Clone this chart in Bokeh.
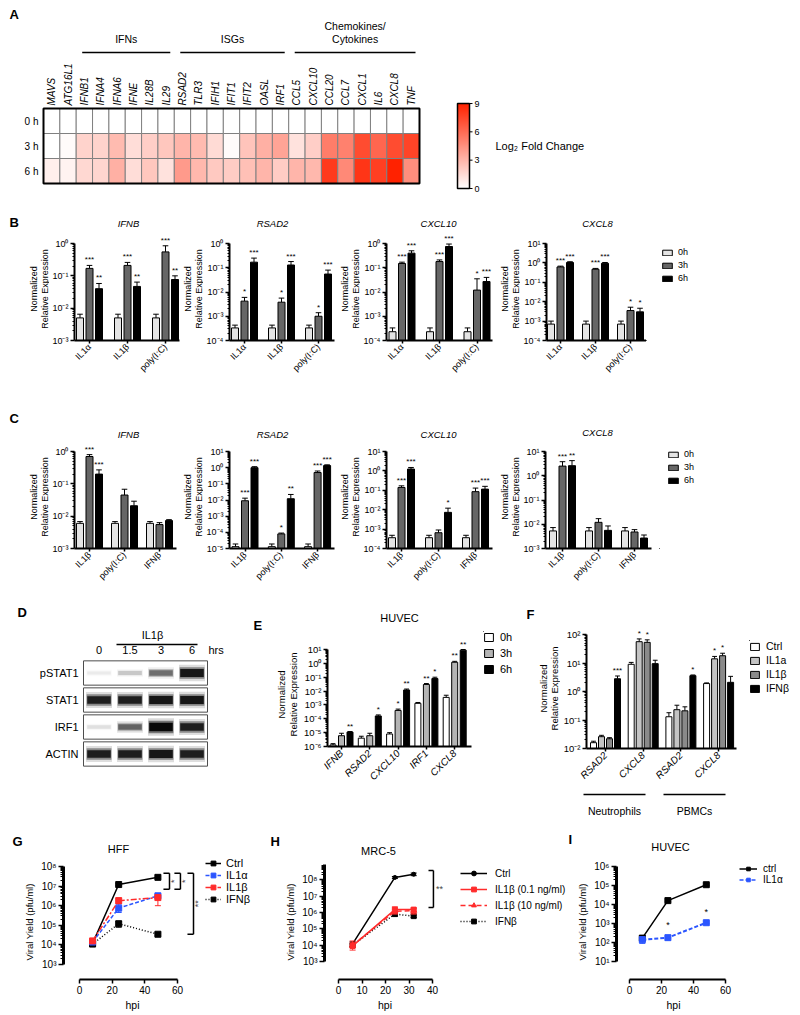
import math
import numpy as np
from bokeh.plotting import figure
from bokeh.layouts import row, column
from bokeh.models import (Range1d, FixedTicker, CustomJSTickFormatter, Label, Spacer,
                          Legend, LegendItem, ColumnDataSource, LinearColorMapper)
from bokeh.transform import dodge, linear_cmap
from bokeh.core.properties import value
from bokeh.embed import file_html
from bokeh.resources import INLINE

FONT = "Liberation Sans"

# ======================= DATA =======================
# --- A: heat map (log2 fold change) ---
GENES = ["MAVS", "ATG16L1", "IFNB1", "IFNA4", "IFNA6", "IFNE", "IL28B", "IL29", "RSAD2", "TLR3",
         "IFIH1", "IFIT1", "IFIT2", "OASL", "IRF1", "CCL5", "CXCL10", "CCL20", "CCL7", "CXCL1",
         "IL6", "CXCL8", "TNF"]
TIMES = ["0 h", "3 h", "6 h"]
LFC_0H = [0.0, 0.0, 0.0, 0.0, 0.0, 0.0, 0.0, 0.0, 0.0, 0.0, 0.0, 0.0,
          0.0, 0.0, 0.0, 0.0, 0.0, 0.0, 0.0, 0.0, 0.0, 0.0, 0.0]
LFC_3H = [0.0, 0.2, 1.8, 1.8, 2.8, 1.4, 2.0, 2.3, 3.0, 2.8, 1.5, 0.2,
          2.4, 3.2, 3.7, 1.2, 2.0, 5.3, 5.1, 7.3, 6.2, 7.3, 7.6]
LFC_6H = [0.7, 0.5, 1.6, 1.7, 3.2, 1.4, 2.3, 1.2, 4.1, 2.9, 2.2, 2.1,
          2.6, 3.0, 2.1, 3.0, 2.9, 8.0, 4.8, 8.2, 7.8, 9.0, 4.6]
GENE_GROUPS = ["IFNs", "ISGs", "Chemokines/Cytokines"]
GROUP_FIRST = [2, 8, 15]
GROUP_LAST = [7, 14, 22]
CBAR_LOW, CBAR_HIGH = 0, 9
CBAR_TICKS = [0, 3, 6, 9]

# --- B ---
B_GROUPS = ["IL1\u03b1", "IL1\u03b2", "poly(I:C)"]
B_TIMES = ["0h", "3h", "6h"]
B_TITLES = ["IFNB", "RSAD2", "CXCL10", "CXCL8"]
B_IFNB = [[5e-3, 5e-3, 5e-3], [0.17, 0.21, 0.55], [0.040, 0.047, 0.077]]
B_IFNB_UP = [[6.5e-3, 6.5e-3, 6.5e-3], [0.21, 0.26, 0.85], [0.058, 0.064, 0.10]]
B_IFNB_SIG = [["", "", ""], ["***", "***", "***"], ["**", "**", "**"]]
B_RSAD2 = [[3.3e-4, 3.3e-4, 3.3e-4], [4.2e-3, 3.8e-3, 1.0e-3], [0.17, 0.13, 0.055]]
B_RSAD2_UP = [[4.3e-4, 4.3e-4, 4.3e-4], [6.0e-3, 5.6e-3, 1.4e-3], [0.25, 0.18, 0.08]]
B_RSAD2_SIG = [["", "", ""], ["*", "*", "*"], ["***", "***", "***"]]
B_CXCL10 = [[2.3e-4, 2.3e-4, 2.3e-4], [0.15, 0.18, 0.012], [0.40, 0.75, 0.027]]
B_CXCL10_UP = [[3.3e-4, 3.3e-4, 3.3e-4], [0.17, 0.21, 0.035], [0.50, 0.95, 0.040]]
B_CXCL10_SIG = [["", "", ""], ["***", "***", "*"], ["***", "***", "***"]]
B_CXCL8 = [[7e-4, 7e-4, 7e-4], [0.62, 0.47, 3.5e-3], [1.05, 0.95, 3.0e-3]]
B_CXCL8_UP = [[1e-3, 1e-3, 1e-3], [0.68, 0.52, 5.2e-3], [1.15, 1.05, 4.6e-3]]
B_CXCL8_SIG = [["", "", ""], ["***", "***", "*"], ["***", "***", "*"]]

# --- C ---
C_GROUPS = ["IL1\u03b2", "poly(I:C)", "IFN\u03b2"]
C_IFNB = [[6e-3, 6e-3, 6e-3], [0.70, 0.045, 5.5e-3], [0.20, 0.021, 7.3e-3]]
C_IFNB_UP = [[6.8e-3, 6.8e-3, 6.8e-3], [0.80, 0.068, 6.3e-3], [0.27, 0.029, 7.8e-3]]
C_IFNB_SIG = [["", "", ""], ["***", "", ""], ["***", "", ""]]
C_RSAD2 = [[1.3e-5, 1.3e-5, 1.3e-5], [9e-3, 8e-5, 0.50], [1.0, 0.012, 1.35]]
C_RSAD2_UP = [[1.9e-5, 1.9e-5, 1.9e-5], [1.3e-2, 9e-5, 0.62], [1.15, 0.022, 1.5]]
C_RSAD2_SIG = [["", "", ""], ["***", "*", "***"], ["***", "**", "***"]]
C_CXCL10 = [[3.6e-4, 3.6e-4, 3.6e-4], [0.14, 6.5e-4, 0.085], [1.25, 7.3e-3, 0.115]]
C_CXCL10_UP = [[4.8e-4, 4.8e-4, 4.8e-4], [0.17, 9e-4, 0.13], [1.5, 1.2e-2, 0.16]]
C_CXCL10_SIG = [["", "", ""], ["***", "", "***"], ["***", "*", "***"]]
C_CXCL8 = [[5.3e-3, 5.3e-3, 5.3e-3], [2.5, 0.012, 4.8e-3], [2.6, 5.6e-3, 2.7e-3]]
C_CXCL8_UP = [[7.3e-3, 7.3e-3, 7.3e-3], [3.8, 0.017, 6e-3], [4.2, 8.5e-3, 3.6e-3]]
C_CXCL8_SIG = [["", "", ""], ["***", "", ""], ["**", "", ""]]

# --- D: western blot band intensities (0-1) ---
BLOT_LANES = ["0", "1.5", "3", "6"]
BLOT_ROWS = ["pSTAT1", "STAT1", "IRF1", "ACTIN"]
BLOT_PSTAT1 = [0.05, 0.15, 0.45, 0.90]
BLOT_STAT1 = [0.85, 0.85, 0.90, 0.90]
BLOT_IRF1 = [0.08, 0.50, 1.00, 0.85]
BLOT_ACTIN = [0.85, 0.85, 0.90, 0.85]

# --- E: HUVEC ---
E_GENES = ["IFNB", "RSAD2", "CXCL10", "IRF1", "CXCL8"]
E_TIMES = ["0h", "3h", "6h"]
E_0H = [1.3e-6, 4e-6, 8e-6, 1.3e-3, 3.5e-3]
E_3H = [6e-6, 6e-6, 4e-4, 3e-2, 1.2]
E_6H = [1.1e-5, 1.6e-4, 1.2e-2, 8e-2, 9.0]
E_0H_UP = [1.6e-6, 5.5e-6, 1.0e-5, 1.5e-3, 5e-3]
E_3H_UP = [9e-6, 9e-6, 5e-4, 3.5e-2, 1.4]
E_6H_UP = [1.2e-5, 1.9e-4, 1.4e-2, 1.0e-1, 10.0]
E_0H_SIG = ["", "", "", "", ""]
E_3H_SIG = ["", "", "*", "**", "**"]
E_6H_SIG = ["**", "*", "**", "*", "**"]

# --- F: neutrophils / PBMCs ---
F_GENES = ["RSAD2", "CXCL8", "RSAD2", "CXCL8"]
F_TREATS = ["Ctrl", "IL1a", "IL1\u03b2", "IFN\u03b2"]
F_CTRL = [0.016, 9.0, 0.13, 1.9]
F_IL1A = [0.026, 56.0, 0.23, 14.0]
F_IL1B = [0.022, 53.0, 0.21, 18.0]
F_IFNB = [2.8, 9.5, 3.6, 2.1]
F_CTRL_UP = [0.018, 10.5, 0.18, 2.0]
F_IL1A_UP = [0.029, 70.0, 0.33, 17.0]
F_IL1B_UP = [0.024, 65.0, 0.29, 22.0]
F_IFNB_UP = [3.5, 12.5, 3.8, 3.4]
F_CTRL_SIG = ["", "", "", ""]
F_IL1A_SIG = ["", "*", "", "*"]
F_IL1B_SIG = ["", "*", "", "*"]
F_IFNB_SIG = ["***", "", "*", ""]
F_CELLS = ["Neutrophils", "PBMCs"]

# --- G: HFF viral yield ---
G_HPI = [8, 24, 48]
G_CTRL = [1.2e4, 1.2e7, 2.8e7]
G_CTRL_LO = [1.0e4, 1.05e7, 2.4e7]
G_CTRL_HI = [1.4e4, 1.35e7, 3.3e7]
G_IL1A = [1.4e4, 7.5e5, 3.2e6]
G_IL1A_LO = [1.2e4, 4.5e5, 2.0e6]
G_IL1A_HI = [1.6e4, 1.2e6, 4.0e6]
G_IL1B = [1.6e4, 1.8e6, 2.6e6]
G_IL1B_LO = [1.4e4, 1.3e6, 1.0e6]
G_IL1B_HI = [1.8e4, 2.5e6, 3.5e6]
G_IFNB = [1.1e4, 1.2e5, 3.5e4]
G_IFNB_LO = [1.0e4, 8e4, 3.0e4]
G_IFNB_HI = [1.2e4, 1.6e5, 4.0e4]
G_BRK_X = [55.1, 61.8, 69.8]
G_BRK_TOP = [4.5e7, 4.5e7, 4.5e7]
G_BRK_BOT = [7e6, 7e6, 3.5e4]
G_BRK_SIG = ["*", "*", "**"]

# --- H: MRC-5 ---
H_HPI = [6, 24, 32]
H_CTRL = [1.2e4, 1.4e8, 2.2e8]
H_CTRL_LO = [8e3, 1.2e8, 1.8e8]
H_CTRL_HI = [1.6e4, 1.6e8, 2.6e8]
H_IL1B01 = [9e3, 1.5e6, 1.5e6]
H_IL1B01_LO = [5e3, 9e5, 8e5]
H_IL1B01_HI = [1.8e4, 2.2e6, 1.9e6]
H_IL1B10 = [1.0e4, 1.2e6, 1.3e6]
H_IL1B10_LO = [7e3, 8e5, 9e5]
H_IL1B10_HI = [1.4e4, 1.6e6, 1.7e6]
H_IFNB = [1.0e4, 8e5, 6e5]
H_IFNB_LO = [8e3, 6e5, 5e5]
H_IFNB_HI = [1.2e4, 1.0e6, 7e5]
H_BRK_X = [40.4]
H_BRK_TOP = [3.7e8]
H_BRK_BOT = [2e6]
H_BRK_SIG = ["**"]

# --- I: HUVEC viral yield ---
I_HPI = [8, 24, 48]
I_CTRL = [1.7e2, 1.6e4, 1.1e5]
I_CTRL_LO = [1.2e2, 1.45e4, 1.0e5]
I_CTRL_HI = [2.3e2, 1.75e4, 1.2e5]
I_IL1A = [1.4e2, 1.8e2, 1.1e3]
I_IL1A_LO = [0.9e2, 1.65e2, 1.0e3]
I_IL1A_HI = [2.0e2, 1.95e2, 1.2e3]
I_SIG_HPI = [24, 48]
I_SIG_Y = [8e2, 4e3]
I_SIG = ["*", "*"]

BLUE = "#2b55ff"
RED = "#ff2b2b"

# ======================= HELPERS =======================
SUP_JS = """
const m = {"-": "\u207b", "0": "\u2070", "1": "\u00b9", "2": "\u00b2", "3": "\u00b3", "4": "\u2074",
           "5": "\u2075", "6": "\u2076", "7": "\u2077", "8": "\u2078", "9": "\u2079"};
const e = Math.round(Math.log10(tick));
let s = "";
for (const c of String(e)) { s += m[c]; }
return "10" + s;
"""


def make_fig(box, frame, xr, yr, y_type="linear", xloc="below", yloc="left"):
    bl, bt, br, bb = box
    fl, ft, fr, fb = frame
    p = figure(width=br - bl, height=bb - bt, frame_width=fr - fl, frame_height=fb - ft,
               x_range=xr, y_range=yr, y_axis_type=y_type,
               x_axis_location=xloc, y_axis_location=yloc, toolbar_location=None, title=None,
               output_backend="svg", min_border_left=fl - bl, min_border_right=br - fr,
               min_border_top=ft - bt, min_border_bottom=bb - fb)
    p.grid.visible = False
    p.outline_line_color = None
    return p


def whole_fig(box, xr, yr):
    return make_fig(box, box, xr, yr, xloc=None, yloc=None)


def pstrip(box, frame=None):
    # text-holding figure whose data coordinates are page pixels (y negated)
    fr_ = box if frame is None else frame
    fl, ft, frr, fb = fr_
    return make_fig(box, fr_, Range1d(fl, frr), Range1d(-fb, -ft), xloc=None, yloc=None)


def stext(p, xs, ys, texts, size, align="center", style="normal", angle=0.0, neg=True):
    yy = [-y for y in ys] if neg else ys
    p.text(x=xs, y=yy, text=texts, text_align=align, text_baseline="middle",
           text_font=value(FONT), text_font_size=f"{size}px", text_font_style=style,
           angle=angle, text_color="black")


def ylab_strip(box, frame, x_outer, x_inner, cy, size):
    st = pstrip(box, frame)
    stext(st, [x_outer, x_inner], [cy, cy], ["Normalized", "Relative Expression"], size,
          angle=math.pi / 2)
    return st


def log_range(lo, hi, py_lo, py_hi, ft, fb):
    ppd = (py_lo - py_hi) / (hi - lo)
    return Range1d(10.0 ** (lo - (fb - py_lo) / ppd), 10.0 ** (hi + (py_hi - ft) / ppd))


def lin_range(v0, px0, v1, px1, fl, fr):
    s = (px1 - px0) / (v1 - v0)
    return Range1d(v0 + (fl - px0) / s, v0 + (fr - px0) / s)


def style_common(ax, size):
    ax.major_label_text_font = FONT
    ax.major_label_text_font_size = f"{size}px"
    ax.major_label_text_color = "black"
    ax.axis_line_color = "black"
    ax.major_tick_line_color = "black"
    ax.minor_tick_line_color = "black"
    ax.axis_label_text_font = FONT
    ax.axis_label_text_font_style = "normal"
    ax.axis_label_text_color = "black"


def style_log_y(ax, lo, hi, size=9, lw=2, tick_out=4, minor_out=2):
    ax.ticker = FixedTicker(ticks=[10.0 ** k for k in range(lo, hi + 1)],
                            minor_ticks=[m * 10.0 ** k for k in range(lo, hi) for m in range(2, 10)])
    ax.formatter = CustomJSTickFormatter(code=SUP_JS)
    ax.bounds = (10.0 ** lo, 10.0 ** hi)
    style_common(ax, size)
    ax.axis_line_width = lw
    ax.major_tick_out = tick_out
    ax.major_tick_in = 0
    ax.minor_tick_out = minor_out
    ax.minor_tick_in = 0
    ax.major_tick_line_width = 1.5
    ax.minor_tick_line_width = 1
    ax.major_label_standoff = 2


def style_cat_x(ax, names, size=9, italic=False, lw=2):
    ax.ticker = FixedTicker(ticks=list(range(len(names))))
    ax.formatter = CustomJSTickFormatter(
        args=dict(names=names),
        code="const i = Math.round(tick); return (i >= 0 && i < names.length) ? names[i] : '';")
    ax.major_label_orientation = math.pi / 4
    style_common(ax, size)
    if italic:
        ax.major_label_text_font_style = "italic"
    ax.axis_line_width = lw
    ax.major_tick_out = 3
    ax.major_tick_in = 0
    ax.major_tick_line_width = 1.5
    ax.minor_tick_line_color = None
    ax.major_label_standoff = 2


def bar_chart(box, frame, names, c0, spacing, lo, hi, py_hi, series, uppers, stars, colors,
              offsets, width_px, ysize=9, xsize=9, italic=False, star_size=8):
    fl, ft, fr, fb = frame
    xr = Range1d((fl - c0) / spacing, (fr - c0) / spacing)
    yr = log_range(lo, hi, fb, py_hi, ft, fb)
    p = make_fig(box, frame, xr, yr, y_type="log")
    gx = list(range(len(names)))
    for k in range(len(series)):
        src = ColumnDataSource(dict(gx=gx, top=series[k], up=uppers[k], sig=stars[k]))
        xd = dodge("gx", offsets[k] / spacing)
        p.segment(x0=xd, y0="top", x1=xd, y1="up", source=src, line_color="black", line_width=1)
        p.scatter(x=xd, y="up", source=src, marker="dash", size=width_px * 0.8,
                  line_color="black", line_width=1)
        p.vbar(x=xd, top="top", bottom=10.0 ** lo, width=width_px / spacing, source=src,
               fill_color=colors[k], line_color="black", line_width=1)
        p.text(x=xd, y="up", text="sig", source=src, text_align="center",
               text_baseline="bottom", text_font=value(FONT),
               text_font_size=f"{star_size}px", y_offset=-1)
    style_log_y(p.yaxis[0], lo, hi, size=ysize)
    style_cat_x(p.xaxis[0], names, size=xsize, italic=italic)
    return p


def add_legend(p, items, gw, gh, sp, so, fs, margin=0):
    leg = Legend(items=items, location="top_left", margin=margin, padding=0,
                 border_line_color=None, background_fill_alpha=0, glyph_width=gw,
                 glyph_height=gh, label_height=gh, spacing=sp, label_standoff=so,
                 label_text_font=FONT, label_text_font_size=f"{fs}px", label_text_color="black")
    p.add_layout(leg)


def bar_items(p, labels, colors):
    items = []
    for lbl, c in zip(labels, colors):
        r = p.vbar(x=[-10], top=[-10], bottom=[-11], width=0.1, fill_color=c,
                   line_color="black", line_width=1)
        items.append(LegendItem(label=lbl, renderers=[r]))
    return items


def line_items(p, labels, colors, dashes, markers):
    items = []
    for lbl, c, d, m in zip(labels, colors, dashes, markers):
        r1 = p.line(x=[-10, -9], y=[-10, -10], line_color=c, line_dash=d, line_width=1.5)
        r2 = p.scatter(x=[-10], y=[-10], marker=m, size=6, fill_color=c, line_color=c)
        items.append(LegendItem(label=lbl, renderers=[r1, r2]))
    return items


def placed(fig_, dx, dy, w_total, h_total):
    # put a border-less figure at offset (dx, dy) inside a w_total x h_total cell using spacers
    inner = fig_ if dx == 0 else row(Spacer(width=dx, height=h_total - dy), fig_)
    return inner if dy == 0 else column(Spacer(width=w_total, height=dy), inner)


def series_line(p, x, y, lo, hi, color, dash, marker, msize, lw=1.5):
    src = ColumnDataSource(dict(x=x, y=y, lo=lo, hi=hi))
    p.segment(x0="x", y0="lo", x1="x", y1="hi", source=src, line_color=color, line_width=1)
    p.scatter(x="x", y="lo", source=src, marker="dash", size=6, line_color=color, line_width=1)
    p.scatter(x="x", y="hi", source=src, marker="dash", size=6, line_color=color, line_width=1)
    p.line(x="x", y="y", source=src, line_color=color, line_dash=dash, line_width=lw)
    p.scatter(x="x", y="y", source=src, marker=marker, size=msize, fill_color=color,
              line_color=color)


def brackets(p, xs, tops, bots, sigs, arm, dx, rotate, size=9):
    x0, y0, x1, y1 = [], [], [], []
    for x, t, b in zip(xs, tops, bots):
        x0 += [x - arm, x, x - arm]
        y0 += [t, t, b]
        x1 += [x, x, x]
        y1 += [t, b, b]
    p.segment(x0=x0, y0=y0, x1=x1, y1=y1, line_color="black", line_width=1.5)
    for x, t, b, s in zip(xs, tops, bots, sigs):
        p.add_layout(Label(x=x + dx, y=math.sqrt(t * b), text=s, text_font=FONT,
                           text_font_size=f"{size}px", text_align="center",
                           text_baseline="middle", angle=(math.pi / 2 if rotate else 0.0)))


def style_lin_x(ax, ticks, bounds, label, size=10):
    ax.ticker = FixedTicker(ticks=ticks)
    ax.bounds = bounds
    style_common(ax, size)
    ax.axis_line_width = 2
    ax.major_tick_out = 4
    ax.major_tick_in = 0
    ax.major_tick_line_width = 1.5
    ax.minor_tick_line_color = None
    ax.major_label_standoff = 2
    ax.axis_label = label
    ax.axis_label_text_font_size = "10.5px"
    ax.axis_label_standoff = 2


# ======================= ROW A =======================
A_BOX = (0, 0, 440, 198)
HM_L, HM_T, HM_R, HM_B = 43, 108, 419, 183
nG, nT = len(GENES), len(TIMES)
CW = (HM_R - HM_L) / nG
RH = (HM_B - HM_T) / nT


def hx(px):
    return (px - HM_L) / CW


def hy(py):
    return (HM_B - py) / RH


PALETTE = ["#%02x%02x%02x" % (255, int(round(255 - 221 * t)), int(round(255 * (1 - t))))
           for t in np.linspace(0, 1, 256)]

hm = whole_fig(A_BOX, Range1d(hx(0), hx(440)), Range1d(hy(198), hy(0)))
gene_x = [i + 0.5 for i in range(nG)]
row_y = [nT - 1 - t + 0.5 for t in range(nT)]
hsrc = ColumnDataSource(dict(x=gene_x * nT, y=[row_y[t] for t in range(nT) for _ in range(nG)],
                             lfc=LFC_0H + LFC_3H + LFC_6H))
hm.rect(x="x", y="y", width=1, height=1, source=hsrc,
        fill_color=linear_cmap("lfc", PALETTE, CBAR_LOW, CBAR_HIGH), line_color="#808080",
        line_width=1)
hm.rect(x=[nG / 2], y=[nT / 2], width=nG, height=nT, fill_color=None, line_color="black",
        line_width=2)
stext(hm, gene_x, [nT + 3 / RH] * nG, GENES, 10, align="left", style="italic",
      angle=math.pi / 2, neg=False)
stext(hm, [hx(38)] * nT, row_y, TIMES, 10, align="right", neg=False)
for name, i0, i1 in zip(GENE_GROUPS, GROUP_FIRST, GROUP_LAST):
    x0 = i0 + 6 / CW
    x1 = i1 + 1 - 4 / CW
    hm.segment(x0=[x0], y0=[hy(52)], x1=[x1], y1=[hy(52)], line_color="black", line_width=1.5)
    if "/" in name:
        a, b = name.split("/")
        stext(hm, [(x0 + x1) / 2] * 2, [hy(25), hy(38)], [a + "/", b], 10.5, neg=False)
    else:
        stext(hm, [(x0 + x1) / 2], [hy(38)], [name], 10.5, neg=False)
stext(hm, [hx(9)], [hy(14)], ["A"], 13, align="left", style="bold", neg=False)

# colour bar (gradient image + ticks mapped from the colour scale)
cb = pstrip((440, 0, 800, 198))
CB_X, CB_W, CB_BOT, CB_H = 457, 12, 188, 85
cmapper = LinearColorMapper(palette=PALETTE, low=CBAR_LOW, high=CBAR_HIGH)
cb.image(image=[np.linspace(CBAR_LOW, CBAR_HIGH, 256).reshape(-1, 1)], x=CB_X, y=-CB_BOT,
         dw=CB_W, dh=CB_H, color_mapper=cmapper)
cb.quad(left=[CB_X], right=[CB_X + CB_W], bottom=[-CB_BOT], top=[-CB_BOT + CB_H],
        fill_color=None, line_color="black", line_width=1.5)
tick_y = [-CB_BOT + (t - CBAR_LOW) / (CBAR_HIGH - CBAR_LOW) * CB_H for t in CBAR_TICKS]
cb.segment(x0=[CB_X + CB_W] * len(tick_y), y0=tick_y, x1=[CB_X + CB_W + 3] * len(tick_y),
           y1=tick_y, line_color="black", line_width=1)
stext(cb, [CB_X + CB_W + 5] * len(tick_y), tick_y, [str(t) for t in CBAR_TICKS], 9,
      align="left", neg=False)
stext(cb, [495], [145], ["Log\u2082 Fold Change"], 11, align="left")

rowA = row(hm, cb)

# ======================= ROWS B, C =======================
# (ylabel strip x0, chart box left, frame left, frame right, chart box right)
B_COLS = [(0, 49, 74, 179, 180), (180, 203, 228, 333, 335), (335, 359, 384, 490, 495),
          (495, 518, 543, 643, 643)]
C_COLS = [(0, 49, 74, 176, 180), (180, 203, 228, 333, 335), (335, 359, 384, 490, 495),
          (495, 518, 543, 649, 652)]
BC_COLORS = ["#e4e4e4", "#666666", "black"]
TITLE_X = [128, 272, 438, 597]

B_PANELS = [(B_IFNB, B_IFNB_UP, B_IFNB_SIG, (-3, 0), 89, 38),
            (B_RSAD2, B_RSAD2_UP, B_RSAD2_SIG, (-4, 0), 243, 37),
            (B_CXCL10, B_CXCL10_UP, B_CXCL10_SIG, (-4, 0), 399.5, 37.5),
            (B_CXCL8, B_CXCL8_UP, B_CXCL8_SIG, (-4, 1), 557, 35)]
C_PANELS = [(C_IFNB, C_IFNB_UP, C_IFNB_SIG, (-3, 0), 89, 35),
            (C_RSAD2, C_RSAD2_UP, C_RSAD2_SIG, (-5, 1), 243.5, 36.3),
            (C_CXCL10, C_CXCL10_UP, C_CXCL10_SIG, (-4, 1), 399, 37),
            (C_CXCL8, C_CXCL8_UP, C_CXCL8_SIG, (-3, 1), 560, 36)]


def build_block(panels, cols, groups, strip_box, letter, letter_y, title_ys, rtop, rbot, ftop,
                fbot, dtop, leg_x0, leg_fl, leg_margin):
    st = pstrip(strip_box)
    stext(st, [9], [letter_y], [letter], 13, align="left", style="bold")
    stext(st, TITLE_X, title_ys, B_TITLES, 9.5, style="italic")
    figs = []
    cy = (dtop + fbot) / 2 - 3
    for i, (ser, ups, sig, (lo, hi), c0, sp) in enumerate(panels):
        sx0, cl, fl, fr, cr = cols[i]
        figs.append(ylab_strip((sx0, rtop, cl, rbot), (sx0, ftop, cl, fbot),
                               fl - 41, fl - 30, cy, 9))
        figs.append(bar_chart((cl, rtop, cr, rbot), (fl, ftop, fr, fbot), groups, c0, sp,
                              lo, hi, dtop, ser, ups, sig, BC_COLORS, [-9.5, 0, 9.5], 7))
    lg = make_fig((leg_x0, rtop, 800, rbot), (leg_fl, ftop, 800, fbot), Range1d(0, 1),
                  Range1d(0, 1), xloc=None, yloc=None)
    add_legend(lg, bar_items(lg, B_TIMES, BC_COLORS), 12, 7, 3, 5, 9, margin=leg_margin)
    figs.append(lg)
    return column(st, row(*figs))


blockB = build_block(B_PANELS, B_COLS, B_GROUPS, (0, 198, 800, 231), "B", 222, [223] * 4,
                     231, 380, 232, 340, 243, 643, 643, 15)
blockC = build_block(C_PANELS, C_COLS, C_GROUPS, (0, 380, 800, 440), "C", 418,
                     [434, 434, 434, 432], 440, 590, 441, 548, 451, 652, 657, 8)

# ======================= ROW D / E / F =======================
D_BOX = (0, 590, 265, 788)
LANE_L, LANE_W, ROW_T, ROW_H = 83, 31, 659, 27


def dx_(px):
    return (px - LANE_L) / LANE_W


def dy_(py):
    return (ROW_T - py) / ROW_H


dp = whole_fig(D_BOX, Range1d(dx_(0), dx_(265)), Range1d(dy_(788), dy_(590)))
nL, nR = len(BLOT_LANES), len(BLOT_ROWS)
row_c = [-(r + 0.5) for r in range(nR)]
dp.rect(x=[nL / 2] * nR, y=row_c, width=nL, height=0.9,
        fill_color="white", line_color="#4d4d4d", line_width=1)
inten = BLOT_PSTAT1 + BLOT_STAT1 + BLOT_IRF1 + BLOT_ACTIN
bsrc = ColumnDataSource(dict(
    x=[i + 0.5 for _ in range(nR) for i in range(nL)],
    y=[row_c[r] for r in range(nR) for _ in range(nL)],
    h=[0.11 + 0.2 * v for v in inten],
    h2=[1.5 * (0.11 + 0.2 * v) for v in inten],
    h3=[2.1 * (0.11 + 0.2 * v) for v in inten],
    a=[0.92 * v for v in inten],
    a2=[0.45 * v for v in inten],
    a3=[0.15 * v for v in inten]))
dp.rect(x="x", y="y", width=0.84, height="h3", source=bsrc, fill_color="black",
        fill_alpha="a3", line_color=None)
dp.rect(x="x", y="y", width=0.8, height="h2", source=bsrc, fill_color="black",
        fill_alpha="a2", line_color=None)
dp.rect(x="x", y="y", width=0.76, height="h", source=bsrc, fill_color="black",
        fill_alpha="a", line_color=None)
stext(dp, [dx_(78)] * nR, row_c, BLOT_ROWS, 11, align="right", neg=False)
stext(dp, [i + 0.5 for i in range(nL)], [dy_(649)] * nL, BLOT_LANES, 11, neg=False)
stext(dp, [dx_(208)], [dy_(649)], ["hrs"], 11, align="left", neg=False)
stext(dp, [dx_(152)], [dy_(634)], ["IL1\u03b2"], 11, neg=False)
dp.segment(x0=[dx_(116)], y0=[dy_(644)], x1=[dx_(197)], y1=[dy_(644)], line_color="black",
           line_width=1.5)
stext(dp, [dx_(17)], [dy_(612)], ["D"], 13, align="left", style="bold", neg=False)
stext(dp, [dx_(253)], [dy_(625)], ["E"], 13, align="left", style="bold", neg=False)

# E
E_FRAME = (326, 636, 470, 746)
E_COLORS = ["white", "#b4b4b4", "black"]
stE = pstrip((265, 590, 475, 636))
stext(stE, [399], [617], ["HUVEC"], 11)
ylE = ylab_strip((265, 636, 300, 788), (265, 636, 300, 746), 281, 293, 694, 9.5)
ep = bar_chart((300, 636, 475, 788), E_FRAME, E_GENES, 340, 28.3, -6, 1, 649,
               [E_0H, E_3H, E_6H], [E_0H_UP, E_3H_UP, E_6H_UP],
               [E_0H_SIG, E_3H_SIG, E_6H_SIG], E_COLORS,
               [-8.5, 0, 8.5], 6, ysize=9.5, xsize=10, italic=True)
colE = column(stE, row(ylE, ep))
lgE = pstrip((482, 631, 525, 788))
add_legend(lgE, bar_items(lgE, E_TIMES, E_COLORS), 11, 10, 4, 6, 11)
legE = placed(lgE, 7, 41, 50, 198)

# F
F_FRAME = (585, 624, 735, 748)
F_COLORS = ["white", "#c4c4c4", "#8a8a8a", "black"]
stFt = pstrip((525, 590, 737, 624))
stext(stFt, [525], [614], ["F"], 13, align="left", style="bold")
ylF = ylab_strip((525, 624, 559, 788), (525, 624, 559, 748), 542, 553, 688, 9.5)
fp = bar_chart((559, 624, 737, 788), F_FRAME, F_GENES, 604, 37.7, -2, 2, 634,
               [F_CTRL, F_IL1A, F_IL1B, F_IFNB],
               [F_CTRL_UP, F_IL1A_UP, F_IL1B_UP, F_IFNB_UP],
               [F_CTRL_SIG, F_IL1A_SIG, F_IL1B_SIG, F_IFNB_SIG], F_COLORS,
               [-12, -4, 4, 12], 6, ysize=9.5, xsize=10, italic=True)
colF = column(stFt, row(ylF, fp))
lgF = pstrip((748, 640, 800, 788))
add_legend(lgF, bar_items(lgF, F_TREATS, F_COLORS), 11, 9, 2, 6, 10.5)
legF = placed(lgF, 11, 50, 63, 198)

stF = pstrip((0, 788, 800, 820))
stF.segment(x0=[583, 663], y0=[-793, -793], x1=[645, 725], y1=[-793, -793], line_color="black",
            line_width=1.5)
stext(stF, [614, 694], [809, 809], F_CELLS, 10.5)

blockD = column(row(dp, colE, legE, colF, legF), stF)

# ======================= ROW G / H / I =======================
stG = pstrip((0, 820, 800, 856))
stext(stG, [12, 270, 568], [840, 840, 838], ["G", "H", "I"], 13, align="left", style="bold")
stext(stG, [118, 378, 670], [847, 849, 845], ["HFF", "MRC-5", "HUVEC"], 11)

FT_G, FB_G = 863, 978
G_FRAME = (63, FT_G, 201, FB_G)
gp = make_fig((0, 856, 203, 1012), G_FRAME, lin_range(0, 79, 60, 177, 63, 201),
              log_range(3, 8, 963, 865, FT_G, FB_G), y_type="log")
series_line(gp, G_HPI, G_CTRL, G_CTRL_LO, G_CTRL_HI, "black", "solid", "square", 6)
series_line(gp, G_HPI, G_IFNB, G_IFNB_LO, G_IFNB_HI, "black", "1 2", "square", 6)
series_line(gp, G_HPI, G_IL1A, G_IL1A_LO, G_IL1A_HI, BLUE, "4 2", "square", 6)
series_line(gp, G_HPI, G_IL1B, G_IL1B_LO, G_IL1B_HI, RED, "6 2 2 2", "square", 6)
brackets(gp, G_BRK_X, G_BRK_TOP, G_BRK_BOT, G_BRK_SIG, 3.7, 2.7, True)
style_log_y(gp.yaxis[0], 3, 8, size=10, lw=3, tick_out=5, minor_out=3)
style_lin_x(gp.xaxis[0], [0, 20, 40, 60], (0, 60), "hpi")
lgG = pstrip((205, 856, 268, 1012))
add_legend(lgG, line_items(lgG, ["Ctrl", "IL1\u03b1", "IL1\u03b2", "IFN\u03b2"],
                           ["black", BLUE, RED, "black"], ["solid", "4 2", "6 2 2 2", "1 2"],
                           ["square"] * 4), 16, 12, 0, 5, 11)
legG = placed(lgG, 2, 0, 65, 156)

H_FRAME = (324, FT_G, 445, FB_G)
hp = make_fig((268, 856, 455, 1012), H_FRAME, lin_range(0, 338, 40, 432, 324, 445),
              log_range(3, 9, 960, 862, FT_G, FB_G), y_type="log")
series_line(hp, H_HPI, H_CTRL, H_CTRL_LO, H_CTRL_HI, "black", "solid", "circle", 4)
series_line(hp, H_HPI, H_IFNB, H_IFNB_LO, H_IFNB_HI, "black", "1 2", "square", 5)
series_line(hp, H_HPI, H_IL1B10, H_IL1B10_LO, H_IL1B10_HI, RED, "5 3", "triangle", 6)
series_line(hp, H_HPI, H_IL1B01, H_IL1B01_LO, H_IL1B01_HI, RED, "solid", "square", 5)
brackets(hp, H_BRK_X, H_BRK_TOP, H_BRK_BOT, H_BRK_SIG, 2.1, 2.6, False)
style_log_y(hp.yaxis[0], 3, 9, size=10, lw=3, tick_out=5, minor_out=3)
style_lin_x(hp.xaxis[0], [0, 10, 20, 30, 40], (0, 40), "hpi")
lgH = pstrip((460, 866, 572, 1012))
add_legend(lgH, line_items(lgH, ["Ctrl", "IL1\u03b2 (0.1 ng/ml)", "IL1\u03b2 (10 ng/ml)",
                                 "IFN\u03b2"],
                           ["black", RED, RED, "black"], ["solid", "solid", "5 3", "1 2"],
                           ["circle", "square", "triangle", "square"]), 27, 12, 4, 8, 10)
legH = placed(lgH, 5, 10, 117, 156)

I_FRAME = (616, FT_G, 730, FB_G)
ip = make_fig((572, 856, 735, 1012), I_FRAME, lin_range(0, 629, 60, 725, 616, 730),
              log_range(1, 6, 960, 865, FT_G, FB_G), y_type="log")
series_line(ip, I_HPI, I_CTRL, I_CTRL_LO, I_CTRL_HI, "black", "solid", "square", 6)
series_line(ip, I_HPI, I_IL1A, I_IL1A_LO, I_IL1A_HI, BLUE, "4 2", "square", 6, lw=2)
ip.text(x=I_SIG_HPI, y=I_SIG_Y, text=I_SIG, text_align="center", text_baseline="middle",
        text_font=value(FONT), text_font_size="9px")
style_log_y(ip.yaxis[0], 1, 6, size=10, lw=3, tick_out=5, minor_out=3)
style_lin_x(ip.xaxis[0], [0, 20, 40, 60], (0, 60), "hpi")
lgI = pstrip((739, 862, 800, 1012))
add_legend(lgI, line_items(lgI, ["ctrl", "IL1\u03b1"], ["black", BLUE], ["solid", "4 2"],
                           ["square", "square"]), 18, 9, 0, 6, 10)
legI = placed(lgI, 4, 6, 65, 156)

for p in (gp, hp, ip):
    p.yaxis[0].axis_label = "Viral Yield (pfu/ml)"
    p.yaxis[0].axis_label_text_font_size = "9.5px"
    p.yaxis[0].axis_label_standoff = 3

blockG = column(stG, row(gp, legG, hp, legH, ip, legI))

layout = column(rowA, blockB, blockC, blockD, blockG)
open("out.html", "w").write(file_html(layout, INLINE))
